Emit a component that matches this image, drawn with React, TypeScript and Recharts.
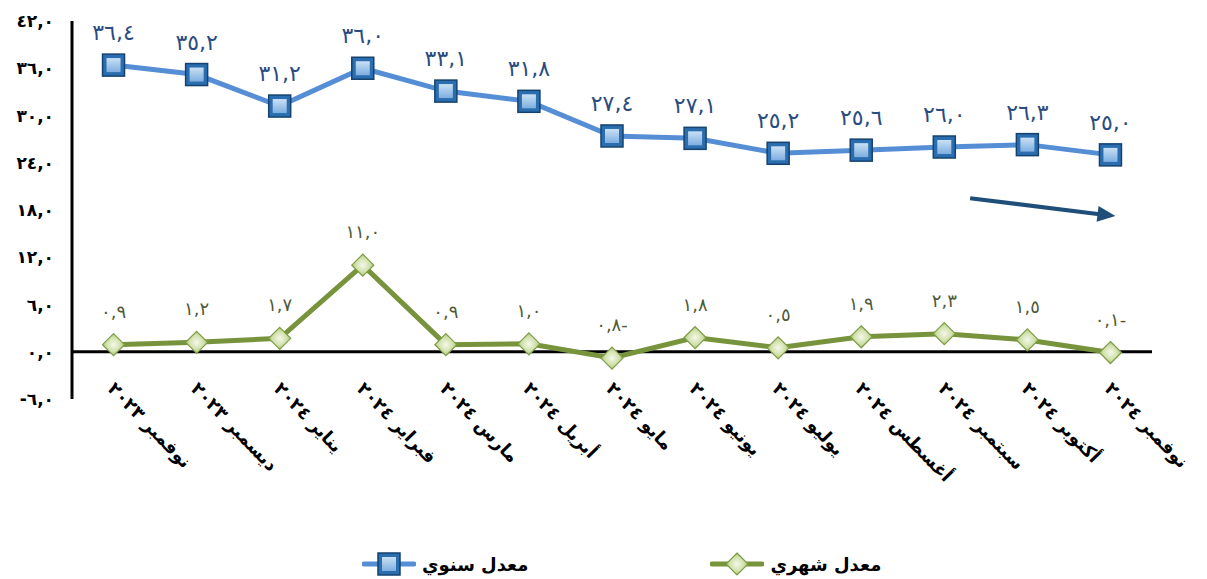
import React from 'react';
import { ComposedChart, Line, XAxis, YAxis, ReferenceLine, LabelList, Legend } from 'recharts';

const categories = [
  'نوفمبر ٢٠٢٣', 'ديسمبر ٢٠٢٣', 'يناير ٢٠٢٤', 'فبراير ٢٠٢٤', 'مارس ٢٠٢٤', 'أبريل ٢٠٢٤',
  'مايو ٢٠٢٤', 'يونيو ٢٠٢٤', 'يوليو ٢٠٢٤', 'أغسطس ٢٠٢٤', 'سبتمبر ٢٠٢٤', 'أكتوبر ٢٠٢٤', 'نوفمبر ٢٠٢٤',
];
const annualRate = [36.4, 35.2, 31.2, 36.0, 33.1, 31.8, 27.4, 27.1, 25.2, 25.6, 26.0, 26.3, 25.0];
const monthlyRate = [0.9, 1.2, 1.7, 11.0, 0.9, 1.0, -0.8, 1.8, 0.5, 1.9, 2.3, 1.5, -0.1];
const yTicks = [-6, 0, 6, 12, 18, 24, 30, 36, 42];
const seriesNames = { annual: 'معدل سنوي', monthly: 'معدل شهري' };
const trendArrow = [
  { x: categories[10], y: 19.9 },
  { x: categories[12], y: 17.3 },
];

const data = categories.map((c, i) => ({ name: c, annual: annualRate[i], monthly: monthlyRate[i] }));

const AR = '٠١٢٣٤٥٦٧٨٩';
const toAr = (s: string) => s.replace(/[0-9]/g, (d) => AR[+d]);
const fmtLabel = (v: any) => {
  const n = Number(v);
  const s = toAr(Math.abs(n).toFixed(1).replace('.', ','));
  return n < 0 ? s + '-' : s;
};
const fmtTick = (v: any) => {
  const n = Number(v);
  const s = toAr(Math.abs(n).toFixed(1).replace('.', ','));
  return n < 0 ? '-' + s : s;
};

const FONT = '"DejaVu Sans", sans-serif';

const SquareDot = (props: any) => {
  const { cx, cy, index } = props;
  if (cx == null || cy == null) return <g key={'s' + index} />;
  return (
    <g key={'s' + index}>
      <rect x={cx - 11} y={cy - 11} width={22} height={22} fill="#2A6EB0" stroke="#15426F" strokeWidth={1.5} />
      <rect x={cx - 7} y={cy - 7} width={14} height={14} fill="url(#sqInner)" />
    </g>
  );
};

const DiamondDot = (props: any) => {
  const { cx, cy, index } = props;
  if (cx == null || cy == null) return <g key={'d' + index} />;
  const r = 11;
  return (
    <g key={'d' + index}>
      <polygon
        points={`${cx},${cy - r} ${cx + r},${cy} ${cx},${cy + r} ${cx - r},${cy}`}
        fill="url(#dmGrad)"
        stroke="#7D9B45"
        strokeWidth={1.2}
      />
    </g>
  );
};

const XTick = (props: any) => {
  const { x, y, payload } = props;
  const ax = x - 2;
  const ay = y - 14;
  return (
    <text
      x={ax}
      y={ay}
      transform={`rotate(46 ${ax} ${ay})`}
      textAnchor="start"
      dominantBaseline="central"
      fontFamily={FONT}
      fontWeight="bold"
      fontSize={18}
      fill="#000"
    >
      {payload.value}
    </text>
  );
};

const YTick = (props: any) => {
  const { x, y, payload } = props;
  return (
    <text x={x} y={y} textAnchor="end" dominantBaseline="central" fontFamily={FONT} fontWeight="bold" fontSize={17} fill="#000">
      {fmtTick(payload.value)}
    </text>
  );
};

const ArrowShape = (props: any) => {
  const { x1, y1, x2, y2 } = props;
  if ([x1, y1, x2, y2].some((v) => v == null || isNaN(v))) return <g />;
  const dx = x2 - x1;
  const dy = y2 - y1;
  const len = Math.sqrt(dx * dx + dy * dy);
  const ux = dx / len;
  const uy = dy / len;
  const sx = x1 + ux * 26;
  const sy = y1 + uy * 26;
  const ex = x2 + ux * 5;
  const ey = y2 + uy * 5;
  const hl = 18;
  const hw = 8;
  const bx = ex - ux * hl;
  const by = ey - uy * hl;
  const px = -uy;
  const py = ux;
  return (
    <g>
      <line x1={sx} y1={sy} x2={bx + ux * 2} y2={by + uy * 2} stroke="#1F4E79" strokeWidth={4} />
      <polygon
        points={`${ex},${ey} ${bx + px * hw},${by + py * hw} ${bx - px * hw},${by - py * hw}`}
        fill="#1F4E79"
      />
    </g>
  );
};

const LegendContent = () => (
  <div style={{ display: 'flex', alignItems: 'center', paddingLeft: 362, gap: 182, fontFamily: FONT }}>
    <div style={{ display: 'flex', alignItems: 'center', gap: 6 }}>
      <svg width={54} height={24}>
        <line x1={2} y1={12} x2={52} y2={12} stroke="#558ED5" strokeWidth={5} strokeLinecap="round" />
        <rect x={16} y={1} width={22} height={22} fill="#2A6EB0" stroke="#15426F" strokeWidth={1.5} />
        <rect x={20} y={5} width={14} height={14} fill="url(#sqInnerL)" />
        <defs>
          <linearGradient id="sqInnerL" x1="0" y1="0" x2="0" y2="1">
            <stop offset="0%" stopColor="#C9E0F5" />
            <stop offset="100%" stopColor="#7EAEE0" />
          </linearGradient>
        </defs>
      </svg>
      <span style={{ fontWeight: 'bold', fontSize: 18, color: '#000' }}>{seriesNames.annual}</span>
    </div>
    <div style={{ display: 'flex', alignItems: 'center', gap: 6 }}>
      <svg width={54} height={24}>
        <line x1={2} y1={12} x2={52} y2={12} stroke="#77933C" strokeWidth={5} strokeLinecap="round" />
        <polygon points="27,1 38,12 27,23 16,12" fill="url(#dmGradL)" stroke="#7D9B45" strokeWidth={1.2} />
        <defs>
          <radialGradient id="dmGradL" cx="50%" cy="50%" r="60%">
            <stop offset="0%" stopColor="#F4F8EC" />
            <stop offset="55%" stopColor="#CFE0A8" />
            <stop offset="100%" stopColor="#92B552" />
          </radialGradient>
        </defs>
      </svg>
      <span style={{ fontWeight: 'bold', fontSize: 18, color: '#000' }}>{seriesNames.monthly}</span>
    </div>
  </div>
);

export default function App() {
  return (
    <div style={{ position: 'absolute', left: 0, top: 0, width: 1207, height: 579, background: '#fff' }}>
      <ComposedChart width={1207} height={579} data={data} margin={{ top: 21, right: 55, bottom: 150, left: 12 }}>
        <defs>
          <linearGradient id="sqInner" x1="0" y1="0" x2="0" y2="1">
            <stop offset="0%" stopColor="#C9E0F5" />
            <stop offset="100%" stopColor="#7EAEE0" />
          </linearGradient>
          <radialGradient id="dmGrad" cx="50%" cy="50%" r="60%">
            <stop offset="0%" stopColor="#F4F8EC" />
            <stop offset="55%" stopColor="#CFE0A8" />
            <stop offset="100%" stopColor="#92B552" />
          </radialGradient>
        </defs>
        <XAxis
          dataKey="name"
          scale="band"
          axisLine={false}
          tickLine={false}
          tickSize={0}
          tickMargin={0}
          height={30}
          interval={0}
          tick={<XTick />}
        />
        <YAxis
          domain={[-6, 42]}
          ticks={yTicks}
          interval={0}
          width={60}
          axisLine={{ stroke: '#000', strokeWidth: 3 }}
          tickLine={false}
          tickSize={0}
          tickMargin={18}
          tick={<YTick />}
        />
        <ReferenceLine y={0} stroke="#000" strokeWidth={3} />
        <ReferenceLine segment={trendArrow} ifOverflow="visible" shape={<ArrowShape />} />
        <Legend
          layout="horizontal"
          verticalAlign="middle"
          align="center"
          wrapperStyle={{ top: 552, left: 0, width: 1207 }}
          content={<LegendContent />}
        />
        <Line
          dataKey="monthly"
          name={seriesNames.monthly}
          stroke="#77933C"
          strokeWidth={5}
          dot={<DiamondDot />}
          activeDot={false}
          isAnimationActive={false}
        >
          <LabelList
            dataKey="monthly"
            position="top"
            offset={27}
            formatter={fmtLabel}
            fill="#4E5A38"
            fontSize={18}
            fontFamily={FONT}
            letterSpacing={2}
          />
        </Line>
        <Line
          dataKey="annual"
          name={seriesNames.annual}
          stroke="#558ED5"
          strokeWidth={5}
          dot={<SquareDot />}
          activeDot={false}
          isAnimationActive={false}
        >
          <LabelList
            dataKey="annual"
            position="top"
            offset={25}
            formatter={fmtLabel}
            fill="#2A4C7F"
            fontSize={22}
            fontFamily={FONT}
          />
        </Line>
      </ComposedChart>
    </div>
  );
}
